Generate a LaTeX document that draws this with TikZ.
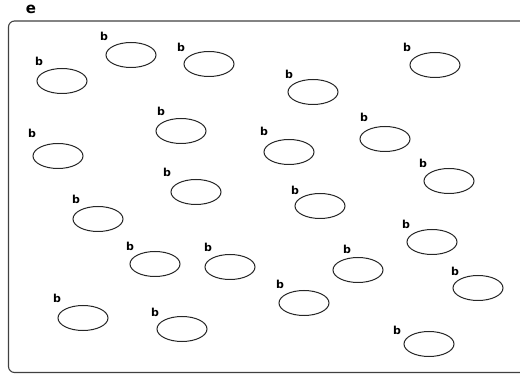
\documentclass[tikz,border=0pt]{standalone}
\usepackage{fontspec}
\setmainfont{DejaVu Sans}
\usetikzlibrary{shapes.geometric}
\begin{document}
\begin{tikzpicture}[x=1pt,y=-1pt,
  blob/.style={ellipse,draw=black!85,line width=1pt,minimum width=50pt,minimum height=25pt,inner sep=0pt},
  blabel/.style={font=\bfseries\fontsize{11}{11}\selectfont,inner sep=0pt},
  frame/.style={draw=black!75,line width=1.1pt,rounded corners=6pt}]
\useasboundingbox (0,0) rectangle (520,374);
\draw[frame] (8.5,21) rectangle (530,372.5);
\node[font=\bfseries\fontsize{15}{15}\selectfont,inner sep=0pt] (title) at (31,9) {e};
\foreach \i/\ex/\ey/\bx/\by in {
  1/131/55/104/36, 2/209/64/181/47, 3/62/81/39/61, 4/313/92/289/74,
  5/435/65/407/47, 6/181/131/161/111, 7/58/156/32/133, 8/289/152/264/131,
  9/385/139/364/117, 10/449/181/423/163, 11/196/192/167/172, 12/320/206/295/190,
  13/98/219/76/199, 14/432/242/406/224, 15/155/264/130/246, 16/230/267/208/247,
  17/358/270/347/249, 18/304/303/280/284, 19/478/288/455/271, 20/83/318/57/298,
  21/182/329/155/312, 22/429/344/397/330} {
  \node[blob] (e\i) at (\ex,\ey) {};
  \node[blabel] (b\i) at (\bx,\by) {b};
}
\end{tikzpicture}
\end{document}
